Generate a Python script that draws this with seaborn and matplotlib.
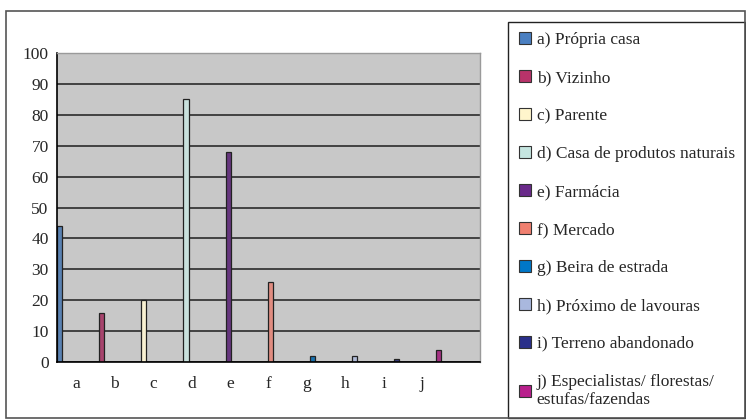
import numpy as np
import pandas as pd
import matplotlib
matplotlib.use("Agg")
import matplotlib.pyplot as plt
from matplotlib.patches import Rectangle, Patch
import seaborn as sns

# Source categories and percentages of respondents
letters = ["a", "b", "c", "d", "e", "f", "g", "h", "i", "j"]
labels = [
    "a) Própria casa",
    "b) Vizinho",
    "c) Parente",
    "d) Casa de produtos naturais",
    "e) Farmácia",
    "f) Mercado",
    "g) Beira de estrada",
    "h) Próximo de lavouras",
    "i) Terreno abandonado",
    "j) Especialistas/ florestas/\nestufas/fazendas",
]
values = [44, 16, 20, 85, 68, 26, 2, 2, 1, 4]
colors = ["#4a7fc1", "#b8336a", "#fff5cc", "#c5e5e0", "#6a2a8a",
          "#f08070", "#0077c8", "#a9b8de", "#2a2f8a", "#b81f8c"]
y_ticks = [0, 10, 20, 30, 40, 50, 60, 70, 80, 90, 100]

sns.set_style("white")
plt.rcParams["font.family"] = ["Liberation Serif", "DejaVu Serif"]

W, H = 746, 420
FS = 12.5
fig = plt.figure(figsize=(W / 100, H / 100), dpi=100)
ax = fig.add_axes([57 / W, 1 - 362 / H, (480 - 57) / W, (362 - 53) / H])

# one slot per letter plus a trailing empty slot; bars sit on their own spacing
n_slots = len(letters) + 1
bar_x = 0.07 + np.arange(len(values)) * 1.095
df = pd.DataFrame({"pos": bar_x, "value": values, "label": labels})

sns.barplot(data=df, x="pos", y="value", hue="label", hue_order=labels,
            palette=colors, native_scale=True, width=0.12, dodge=False,
            edgecolor="#222222", linewidth=0.9, legend=False, ax=ax)

ax.set_facecolor("#c8c8c8")
ax.set_xlim(0, n_slots)
ax.set_ylim(0, 100)
ax.set_yticks(y_ticks)
ax.set_yticklabels([str(v) for v in y_ticks], fontsize=FS)
ax.set_xticks(np.arange(n_slots + 1))
ax.set_xticklabels([])
ax.set_xticks(np.arange(len(letters)) + 0.5, minor=True)
ax.set_xticklabels(letters, minor=True, fontsize=FS)
ax.tick_params(axis="x", which="major", length=4, width=1, color="black", direction="out")
ax.tick_params(axis="x", which="minor", length=0, pad=10)
ax.tick_params(axis="y", length=4, width=1, color="black", direction="out", pad=2)
ax.set_xlabel("")
ax.set_ylabel("")
ax.yaxis.grid(True, color="#1e1e1e", linewidth=1.1)
ax.xaxis.grid(False)
ax.set_axisbelow(True)
for side in ("left", "bottom"):
    ax.spines[side].set_color("black")
    ax.spines[side].set_linewidth(1.2)
for side in ("top", "right"):
    ax.spines[side].set_color("#9a9a9a")
    ax.spines[side].set_linewidth(1.0)

# legend in its own boxed panel
handles = [Patch(facecolor=c, edgecolor="#333333", linewidth=0.8) for c in colors]
fig.legend(handles, labels, loc="upper left",
           bbox_to_anchor=(512 / W, 1 - 25 / H), frameon=False,
           fontsize=FS, handlelength=0.72, handleheight=0.72,
           handletextpad=0.3, labelspacing=1.25, borderaxespad=0)
fig.add_artist(Rectangle((508 / W, 1 - 418 / H), (745 - 508) / W, (418 - 22) / H,
                         transform=fig.transFigure, fill=False,
                         edgecolor="#222222", linewidth=1.0))
# outer chart frame
fig.add_artist(Rectangle((6 / W, 1 - 418 / H), (745 - 6) / W, (418 - 11) / H,
                         transform=fig.transFigure, fill=False,
                         edgecolor="#555555", linewidth=1.2))

fig.savefig("out.png", dpi=100)
